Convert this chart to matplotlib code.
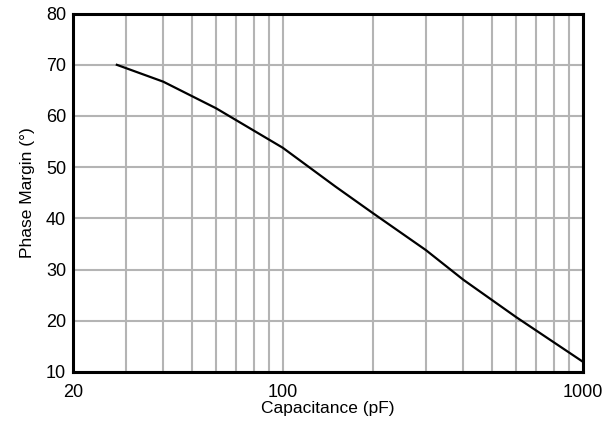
import matplotlib
matplotlib.use('Agg')
import matplotlib.pyplot as plt
import matplotlib.ticker as ticker

plt.rcParams['font.family'] = ['Liberation Sans', 'DejaVu Sans']

cap_pf = [28, 40, 60, 100, 150, 200, 300, 400, 600, 1000]
phase_margin = [70, 66.7, 61.5, 53.8, 46.2, 41, 33.8, 28, 20.7, 12]

x_ticks = [20, 100, 1000]
x_ticklabels = ['20', '100', '1000']
y_ticks = [10, 20, 30, 40, 50, 60, 70, 80]

fig = plt.figure(figsize=(6.16, 4.26), dpi=100)
ax = fig.add_axes([0.1185, 0.127, 0.8275, 0.841])

ax.plot(cap_pf, phase_margin, color='black', linewidth=1.6, zorder=3)

ax.set_xscale('log')
ax.set_xlim(20, 1000)
ax.set_ylim(10, 80)

ax.xaxis.set_major_locator(ticker.FixedLocator(x_ticks))
ax.xaxis.set_major_formatter(ticker.FixedFormatter(x_ticklabels))
ax.xaxis.set_minor_locator(ticker.LogLocator(base=10, subs=range(2, 10)))
ax.xaxis.set_minor_formatter(ticker.NullFormatter())
ax.set_yticks(y_ticks)

ax.grid(True, which='both', color='#b4b4b4', linewidth=1.5, zorder=1)
ax.set_axisbelow(True)

ax.tick_params(which='both', length=0, labelsize=13)
ax.tick_params(axis='x', pad=9)
ax.tick_params(axis='y', pad=5)
for s in ax.spines.values():
    s.set_linewidth(2.2)
    s.set_zorder(4)

ax.set_xlabel('Capacitance (pF)', fontsize=12.5, labelpad=0)
ax.set_ylabel('Phase Margin (°)', fontsize=12.5, labelpad=8)

fig.savefig('out.png', dpi=100)
